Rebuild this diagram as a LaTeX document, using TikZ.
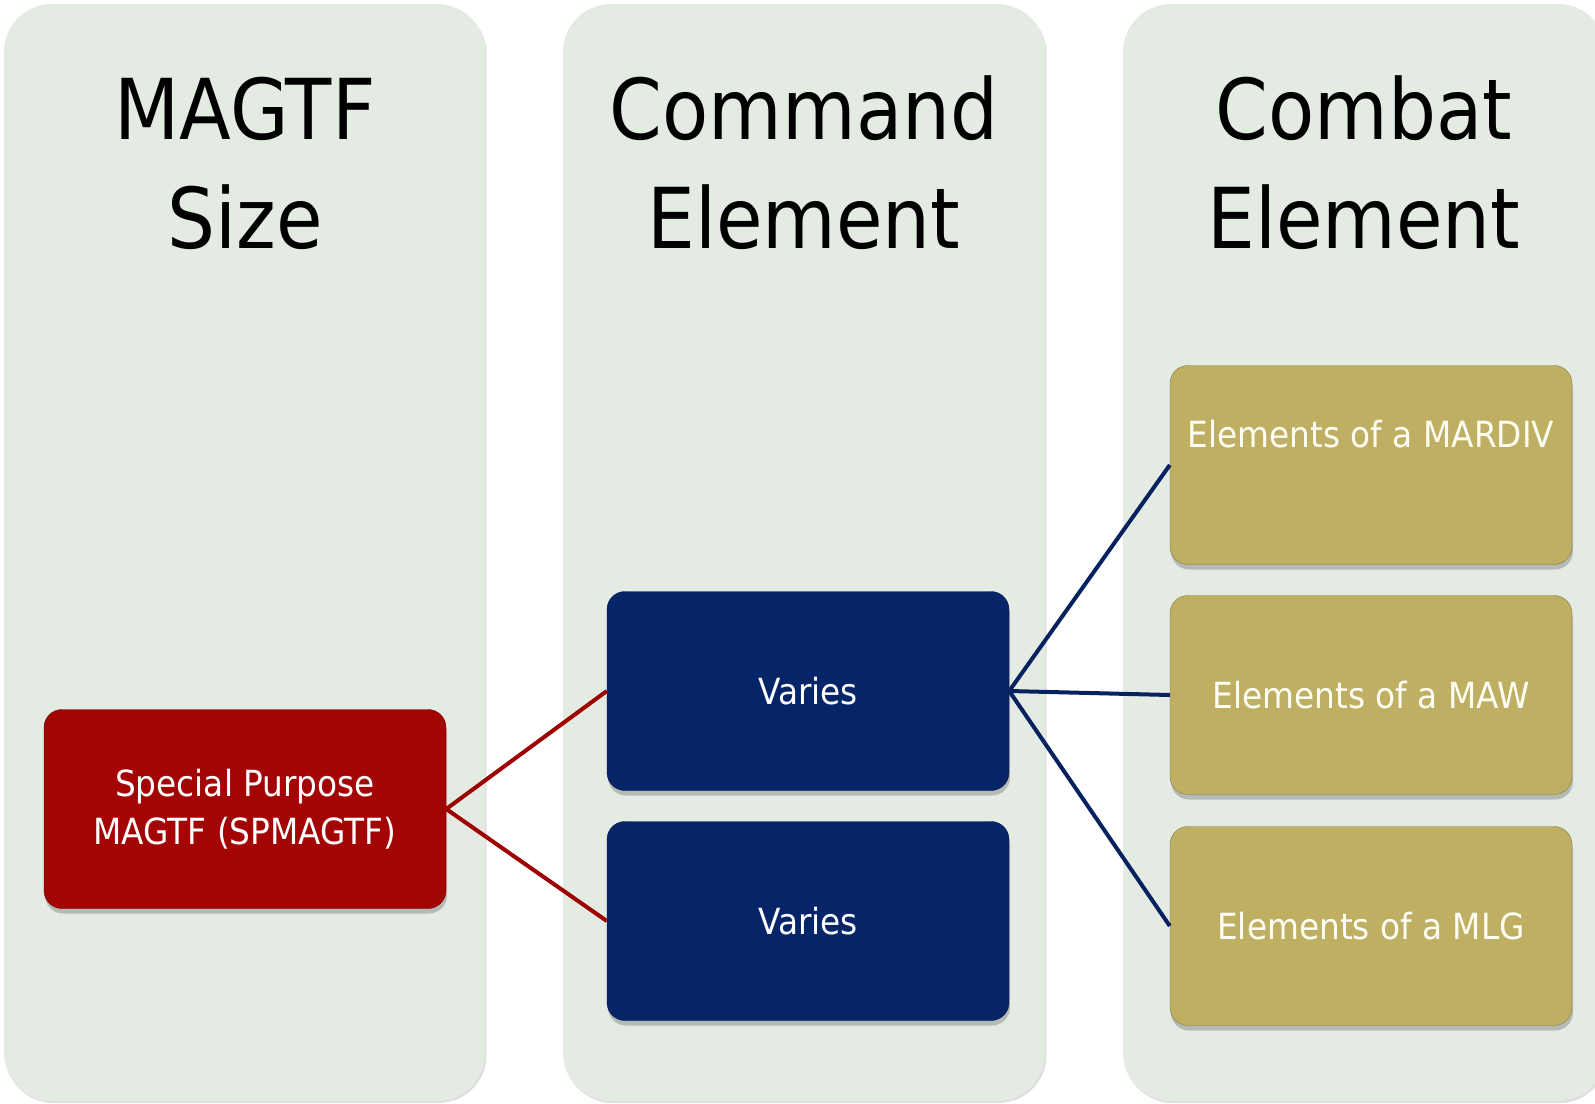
\documentclass[tikz,border=0pt]{standalone}
\usepackage{fontspec}
\setmainfont[FakeStretch=0.9]{DejaVu Sans}
\newfontfamily\boxfont[FakeStretch=0.91]{DejaVu Sans}
\usetikzlibrary{shadows}
\definecolor{colfill}{RGB}{227,235,227}
\definecolor{sizered}{RGB}{163,5,5}
\definecolor{cenavy}{RGB}{6,36,104}
\definecolor{cegold}{RGB}{190,175,98}
\definecolor{linered}{RGB}{158,0,0}
\definecolor{linenavy}{RGB}{6,33,96}

\begin{document}
\begin{tikzpicture}[x=1pt,y=-1pt]
\tikzstyle{every node}+=[inner sep=0pt]
\tikzstyle{column}=[fill=colfill, rounded corners=48pt, drop shadow={shadow xshift=1.5pt, shadow yshift=-2pt, opacity=0.25}]
\tikzstyle{title}=[align=center, font=\fontsize{84}{109}\selectfont]
\tikzstyle{elbox}=[rounded corners=18pt, minimum width=402pt, minimum height=199pt, align=center, text=white, font=\boxfont\fontsize{36}{48}\selectfont, drop shadow={shadow xshift=1pt, shadow yshift=-5pt, opacity=0.45}]
\tikzstyle{sizebox}=[elbox, fill=sizered, draw=sizered!70!black]
\tikzstyle{cebox}=[elbox, fill=cenavy, draw=cenavy!70!black]
\tikzstyle{gcebox}=[elbox, fill=cegold, draw=cegold!70!black, text=white!96!yellow]
\tikzstyle{redline}=[draw=linered, line width=4pt]
\tikzstyle{navyline}=[draw=linenavy, line width=4pt]
\useasboundingbox (0,0) rectangle (1595,1103);
\fill [white] (0,0) rectangle (1595,1103);
\path [column] (4,4) rectangle (485,1101);
\path [column] (563,4) rectangle (1045,1101);
\path [column] (1123,4) rectangle (1606,1101);
\node [title] (sizetitle) at (245,163) {MAGTF\\Size};
\node [title] (cetitle) at (804,163) {Command\\Element};
\node [title] (gcetitle) at (1364,163) {Combat\\Element};
\node [sizebox] (spmagtf) at (245,809) {Special Purpose\\MAGTF (SPMAGTF)};
\node [cebox] (ce1) at (808,691) {Varies};
\node [cebox] (ce2) at (808,921) {Varies};
\node [gcebox] (mardiv) at (1371,465) {Elements of a MARDIV\\ \strut};
\node [gcebox] (maw) at (1371,695) {Elements of a MAW};
\node [gcebox] (mlg) at (1371,926) {Elements of a MLG};
\draw [redline] (spmagtf.east) -- (ce1.west);
\draw [redline] (spmagtf.east) -- (ce2.west);
\draw [navyline] (ce1.east) -- (mardiv.west);
\draw [navyline] (ce1.east) -- (maw.west);
\draw [navyline] (ce1.east) -- (mlg.west);
\end{tikzpicture}
\end{document}
